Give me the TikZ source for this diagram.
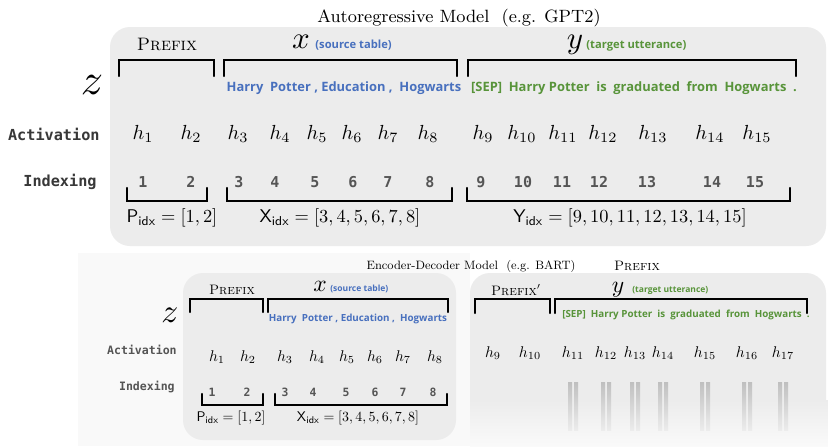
\documentclass[tikz,border=0pt]{standalone}
\usepackage{amsmath}
\usepackage{fontspec}
\newfontfamily\fichas{Open Sans}
\newfontfamily\codigo{DejaVu Sans Mono}
\usetikzlibrary{positioning,arrows.meta}
\definecolor{panel}{RGB}{236,236,236}
\definecolor{fuente}{RGB}{72,112,190}
\definecolor{destino}{RGB}{88,148,58}
\definecolor{gristexto}{RGB}{85,85,85}

\begin{document}
\begin{tikzpicture}[x=0.5pt, y=-0.5pt,
  caja/.style={fill=panel, rounded corners=10pt},
  corchete/.style={line width=1.1pt, line cap=round, line join=miter},
  titulo/.style={font=\fontsize{8.9}{11}\selectfont},
  prefijo/.style={font=\fontsize{9}{10}\selectfont\scshape},
  etiqueta/.style={font=\fontsize{7.6}{9}\selectfont\codigo\bfseries, anchor=east, inner sep=0pt, text=black!78},
  zeta/.style={font=\normalsize, scale=2.2},
  letra/.style={font=\normalsize, scale=1.55},
  act/.style={font=\normalsize, scale=1.02},
  num/.style={font=\fontsize{7.5}{9}\selectfont\codigo\bfseries, text=gristexto},
  fichas/.style={font=\fontsize{6.45}{7}\selectfont\fichas\bfseries},
  nota/.style={font=\fontsize{5.6}{6}\selectfont\fichas\bfseries},
  indice/.style={font=\normalsize, scale=0.92},
  chico/.style={scale=0.76}]
  \useasboundingbox (0,0) rectangle (828,446);
  \fill[white] (0,0) rectangle (828,446);
  \fill[black!2.5] (78,253) rectangle (470,446);

  % modelo autorregresivo
  \fill[caja] (110,27) rectangle (826,246);
  \node[titulo] (tit1) at (459,18) {Autoregressive Model\ \ (e.g. GPT2)};
  \node[prefijo] (pre1) at (167,44) {Prefix};
  \node[letra, anchor=base] (xl1) at (301,48) {$x$};
  \node[nota, text=fuente, anchor=base west, inner sep=0pt] (xn1) at (315,48) {(source table)};
  \node[letra, anchor=base] (yl1) at (575,48) {$y$};
  \node[nota, text=destino, anchor=base west, inner sep=0pt] (yn1) at (586,48) {(target utterance)};
  \draw[corchete] (119,76) |- (214,60) -- (214,76);
  \draw[corchete] (224,76) |- (457,60) -- (457,76);
  \draw[corchete] (468,76) |- (796,60) -- (796,76);
  \node[zeta] (z1) at (92,85) {$z$};
  \node[fichas, text=fuente] (src1) at (344,88) {Harry\ \ Potter\ ,\ Education\ ,\ \ Hogwarts};
  \node[fichas, text=destino] (tgt1) at (634,88) {[SEP]\ \ Harry Potter\ \ is\ \ graduated\ \ from\ \ Hogwarts\ \ .};
  \node[etiqueta] (act1) at (100,134) {Activation};
  \node[etiqueta] (idx1) at (97,182) {Indexing};
  \foreach \x/\i in {143/1,191/2,238/3,280/4,317/5,352/6,388/7,428/8,483/9,
                     522/10,563/11,603/12,653/13,710/14,757/15}
    \node[act] (ha\i) at (\x,134) {$h_{\i}$};
  \foreach \x/\i in {143/1,191/2,239/3,275/4,315/5,353/6,388/7,430/8,481/9,
                     523/10,562/11,599/12,647/13,712/14,755/15}
    \node[num] (na\i) at (\x,182) {\i};
  \draw[corchete] (127,188) |- (207,201) -- (207,188);
  \draw[corchete] (227,188) |- (452,201) -- (452,188);
  \draw[corchete] (467,188) |- (790,201) -- (790,188);
  \node[indice] (pidx1) at (172,218) {$\mathsf{P}_{\mathsf{idx}} = [1,2]$};
  \node[indice] (xidx1) at (340,218) {$\mathsf{X}_{\mathsf{idx}} = [3,4,5,6,7,8]$};
  \node[indice] (yidx1) at (630,218) {$\mathsf{Y}_{\mathsf{idx}} = [9,10,11,12,13,14,15]$};

  % modelo codificador-decodificador
  \fill[caja] (183,273) rectangle (456,440);
  \fill[caja] (470,480) |- (826,273) -- (826,480) -- cycle;
  \shade[top color=panel, bottom color=black!2] (470,400) rectangle (828,447);
  \node[titulo, scale=0.68] (tit2) at (471,266) {Encoder-Decoder Model\ \ (e.g. BART)};
  \node[prefijo, chico] (pre2) at (637,266) {Prefix};
  \node[prefijo, chico] (pre3) at (232,290) {Prefix};
  \node[letra, chico, anchor=base] (xl2) at (320,291) {$x$};
  \node[nota, chico, text=fuente, anchor=base west, inner sep=0pt] (xn2) at (330,291) {(source table)};
  \draw[corchete] (190,312) |- (263,299) -- (263,312);
  \draw[corchete] (268,312) |- (448,299) -- (448,312);
  \node[zeta, chico] (z2) at (170,315) {$z$};
  \node[fichas, chico, text=fuente] (src2) at (358,319) {Harry\ \ Potter\ ,\ Education\ ,\ \ Hogwarts};
  \node[etiqueta, chico, text=gristexto] (act2) at (177,350) {Activation};
  \node[etiqueta, chico, text=gristexto] (idx2) at (175,387) {Indexing};
  \foreach \x/\i in {217/1,248/2,285/3,317/4,347/5,375/6,403/7,435/8}
    \node[act, chico] (hb\i) at (\x,357) {$h_{\i}$};
  \foreach \x/\i in {212/1,247/2,285/3,313/4,346/5,375/6,403/7,433/8}
    \node[num, chico] (nb\i) at (\x,392) {\i};
  \draw[corchete] (202,394) |- (263,405) -- (263,394);
  \draw[corchete] (275,394) |- (447,405) -- (447,394);
  \node[indice, chico] (pidx2) at (231,418) {$\mathsf{P}_{\mathsf{idx}} = [1,2]$};
  \node[indice, chico] (xidx2) at (358,418) {$\mathsf{X}_{\mathsf{idx}} = [3,4,5,6,7,8]$};

  \node[prefijo, chico] (pre4) at (516,290) {Prefix$'$};
  \node[letra, chico, anchor=base] (yl2) at (618,292) {$y$};
  \node[nota, chico, text=destino, anchor=base west, inner sep=0pt] (yn2) at (632,292) {(target utterance)};
  \draw[corchete] (475,313) |- (550,299) -- (550,313);
  \draw[corchete] (555,313) |- (807,299) -- (807,313);
  \node[fichas, chico, text=destino] (tgt2) at (686,315) {[SEP]\ \ Harry Potter\ \ is\ \ graduated\ \ from\ \ Hogwarts\ \ .};
  \foreach \x/\i in {493/9,530/10,573/11,606/12,635/13,663/14,705/15,747/16,783/17}
    \node[act, chico] (hc\i) at (\x,353) {$h_{\i}$};
  \foreach \x in {573,606,635,663,705,747,783} {
    \shade[top color=gray!50, bottom color=panel] (\x-5,382) rectangle (\x-1,430);
    \shade[top color=gray!50, bottom color=panel] (\x+1,382) rectangle (\x+5,430);
  }
\end{tikzpicture}
\end{document}
